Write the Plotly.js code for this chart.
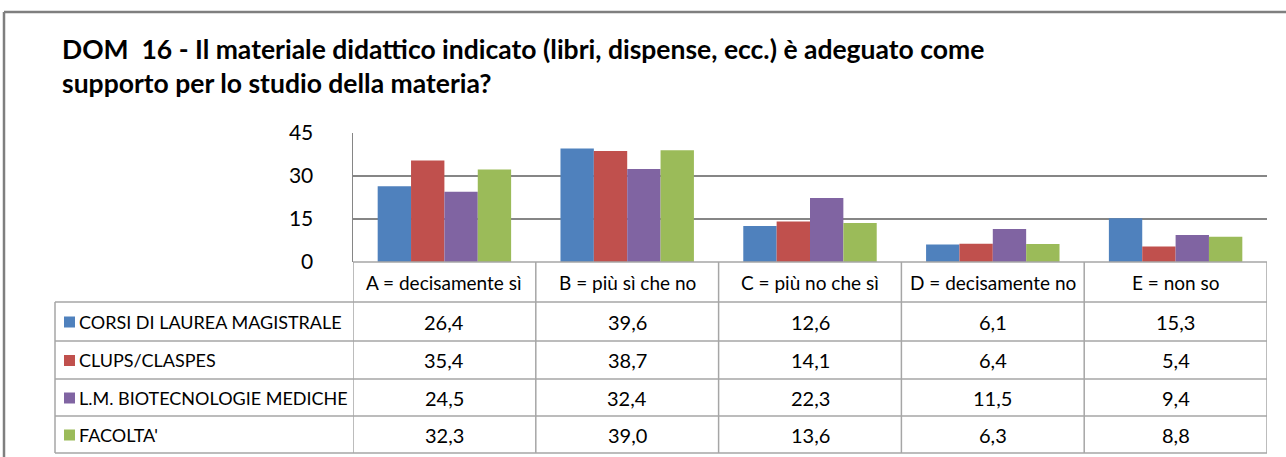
<!DOCTYPE html>
<html><head><meta charset="utf-8">
<script src="https://cdn.plot.ly/plotly-3.0.1.min.js"></script>
<style>html,body{margin:0;padding:0;background:#fff}#chart{width:1286px;height:457px}</style>
</head><body><div id="chart"></div>
<script>
const categories = ["A = decisamente sì","B = più sì che no","C = più no che sì","D = decisamente no","E = non so"];
const seriesNames = ["CORSI DI LAUREA MAGISTRALE","CLUPS/CLASPES","L.M. BIOTECNOLOGIE MEDICHE","FACOLTA'"];
const corsiLaureaMagistrale = [26.4,39.6,12.6,6.1,15.3];
const clupsClaspes = [35.4,38.7,14.1,6.4,5.4];
const lmBiotecnologieMediche = [24.5,32.4,22.3,11.5,9.4];
const facolta = [32.3,39.0,13.6,6.3,8.8];
const yTicks = [0,15,30,45];
const titleText = "DOM  16 - Il materiale didattico indicato (libri, dispense, ecc.) è adeguato come<br>supporto per lo studio della materia?";

const seriesValues = [corsiLaureaMagistrale, clupsClaspes, lmBiotecnologieMediche, facolta];
const colors = ["#4F81BD","#C0504D","#8064A2","#9BBB59"];
const W = 1286, H = 457;
const px = x => x / W, py = y => 1 - y / H;
const FONT = "Lato, 'Open Sans', sans-serif";
const gridCol = "#868686", tableCol = "#A6A6A6";

const plotLeft = 353, plotRight = 1267, plotTop = 133, plotBottom = 262;
const tableLeft = 55;
const rowLines = [302, 341, 379, 416, 453];

const traces = seriesNames.map((n, i) => ({
  type: 'bar', name: n, x: categories, y: seriesValues[i],
  marker: {color: colors[i], line: {width: 0}}, hoverinfo: 'none'
}));

const shapes = [];
const annotations = [];
// frame
shapes.push({type:'line', xref:'paper', yref:'paper', x0:px(4), x1:px(4), y0:0, y1:py(12), line:{color:'#7F7F7F', width:2.5}});
shapes.push({type:'line', xref:'paper', yref:'paper', x0:px(4), x1:1, y0:py(12), y1:py(12), line:{color:'#7F7F7F', width:2.5}});
// table horizontal lines
shapes.push({type:'line', xref:'x', yref:'paper', x0:-0.5, x1:categories.length-0.5, y0:py(plotBottom), y1:py(plotBottom), line:{color:tableCol, width:1.5}});
rowLines.forEach(y => shapes.push({type:'line', xref:'paper', yref:'paper', x0:px(tableLeft), x1:px(plotRight), y0:py(y), y1:py(y), line:{color:tableCol, width:1.5}}));
// vertical lines
shapes.push({type:'line', xref:'paper', yref:'paper', x0:px(tableLeft), x1:px(tableLeft), y0:py(rowLines[0]), y1:py(rowLines[rowLines.length-1]), line:{color:tableCol, width:1.5}});
for (let k = 0; k <= categories.length; k++) {
  shapes.push({type:'line', xref:'x', yref:'paper', x0:k-0.5, x1:k-0.5, y0:py(plotBottom), y1:py(rowLines[rowLines.length-1]), line:{color:tableCol, width:1.5}});
}
// category header labels
categories.forEach(c => annotations.push({xref:'x', yref:'paper', x:c, y:py((plotBottom+rowLines[0])/2), text:c, showarrow:false, xanchor:'center', yanchor:'middle', font:{family:FONT, size:19, color:'#000'}}));
// rows
seriesNames.forEach((n, i) => {
  const yc = (rowLines[i] + rowLines[i+1]) / 2;
  shapes.push({type:'rect', xref:'paper', yref:'paper', x0:px(64), x1:px(75), y0:py(yc+6), y1:py(yc-5), fillcolor:colors[i], line:{width:0}});
  annotations.push({xref:'paper', yref:'paper', x:px(77), y:py(yc), text:n, showarrow:false, xanchor:'left', yanchor:'middle', font:{family:FONT, size:18, color:'#000'}});
  seriesValues[i].forEach((v, j) => annotations.push({xref:'x', yref:'paper', x:categories[j], y:py(yc), text:v.toFixed(1).replace('.', ','), showarrow:false, xanchor:'center', yanchor:'middle', font:{family:FONT, size:20, color:'#000'}}));
});

const layout = {
  width: W, height: H, margin: {l:0, r:0, t:0, b:0},
  paper_bgcolor: '#fff', plot_bgcolor: '#fff', showlegend: false,
  barmode: 'group', bargap: 0.27, bargroupgap: 0,
  title: {text: titleText, xref:'paper', yref:'paper', x: px(62), xanchor:'left', y: py(59), yanchor:'top', font:{family:FONT, size:26.5, weight:700, color:'#000'}},
  xaxis: {domain:[px(plotLeft), px(plotRight)], type:'category', range:[-0.5, categories.length-0.5], showticklabels:false, showgrid:false, zeroline:false, showline:false, fixedrange:true},
  yaxis: {domain:[py(plotBottom), py(plotTop)], range:[0,45], tickvals:yTicks, ticktext:yTicks.map(String), showgrid:true, gridcolor:gridCol, gridwidth:1.5, zeroline:false, showline:true, linecolor:gridCol, linewidth:1.5, ticks:'', ticklabelstandoff:34, tickfont:{family:FONT, size:21, color:'#000'}, fixedrange:true},
  shapes: shapes, annotations: annotations
};
Plotly.newPlot('chart', traces, layout, {staticPlot:true, displayModeBar:false});
</script></body></html>
